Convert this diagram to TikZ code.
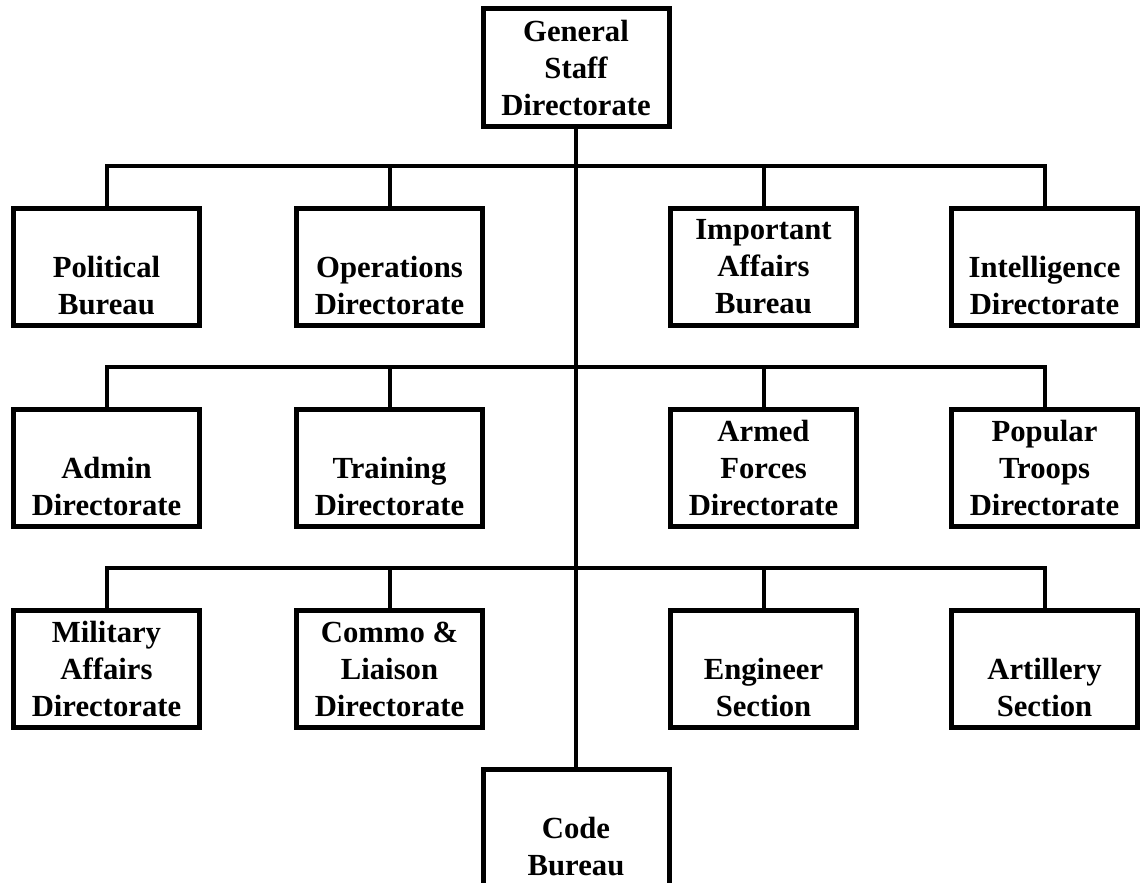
\documentclass[tikz,border=0pt]{standalone}
\usepackage{fontspec}
\setmainfont{Liberation Serif}
\usetikzlibrary{positioning}
\newcommand{\blankline}{\vphantom{Ab}}
\tikzset{
  unit/.style={
    draw,
    line width=5pt,
    align=center,
    minimum width=186pt,
    minimum height=117pt,
    inner sep=0pt,
    font=\fontsize{30.7}{37}\selectfont\bfseries
  },
  link/.style={line width=4pt}
}

\begin{document}
\begin{tikzpicture}[node distance=79pt and 92pt, x=1pt, y=1pt]
\useasboundingbox (0,0) rectangle (1140,-883);

\node[unit] (gsd) at (576,-67.5) {General\\Staff\\Directorate};

% First row
\node[unit] (pol) at (106.5,-267) {\blankline\\Political\\Bureau};
\node[unit, right=of pol] (ops) {\blankline\\Operations\\Directorate};
\node[unit, right=183pt of ops] (iab) {Important\\Affairs\\Bureau};
\node[unit, right=90pt of iab] (intel) {\blankline\\Intelligence\\Directorate};

% Second row
\node[unit, below=of pol] (admin) {\blankline\\Admin\\Directorate};
\node[unit, below=of ops] (train) {\blankline\\Training\\Directorate};
\node[unit, below=of iab] (afd) {Armed\\Forces\\Directorate};
\node[unit, below=of intel] (ptd) {Popular\\Troops\\Directorate};

% Third row
\node[unit, below=of admin] (mad) {Military\\Affairs\\Directorate};
\node[unit, below=of train] (cld) {Commo \&\\Liaison\\Directorate};
\node[unit, below=of afd] (eng) {\blankline\\Engineer\\Section};
\node[unit, below=of ptd] (art) {\blankline\\Artillery\\Section};

\node[unit] (code) at (576,-828) {\blankline\\Code\\Bureau};

\draw[link] (gsd.south) -- (code.north);

\draw[link] (pol.north) -- ++(0,40) -| (intel.north);
\draw[link] (ops.north) -- ++(0,40);
\draw[link] (iab.north) -- ++(0,40);

\draw[link] (admin.north) -- ++(0,40) -| (ptd.north);
\draw[link] (train.north) -- ++(0,40);
\draw[link] (afd.north) -- ++(0,40);

\draw[link] (mad.north) -- ++(0,40) -| (art.north);
\draw[link] (cld.north) -- ++(0,40);
\draw[link] (eng.north) -- ++(0,40);

\end{tikzpicture}
\end{document}
